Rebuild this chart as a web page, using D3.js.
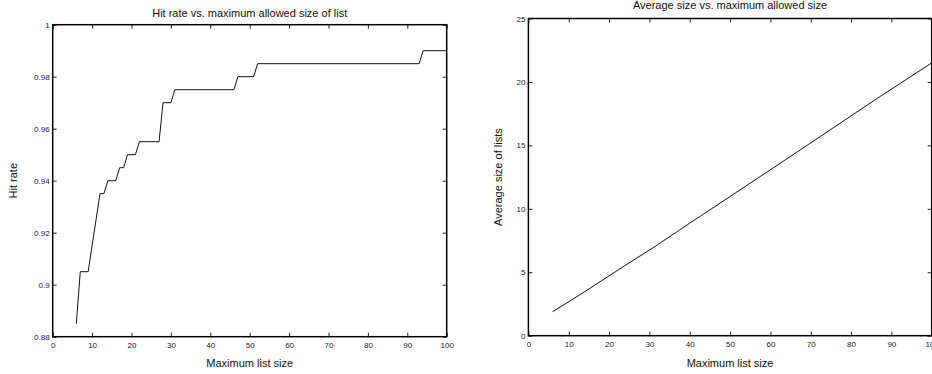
<!DOCTYPE html>
<html>
<head>
<meta charset="utf-8">
<script src="https://cdn.jsdelivr.net/npm/d3@7"></script>
<style>
  body { margin: 0; background: #fff; }
  svg { display: block; font-family: "Liberation Sans", Arial, sans-serif; }
  .tick text { fill: #222; }
</style>
</head>
<body>
<div class="chart-container"></div>
<script>
// left panel: hit rate (step-like curve)
const hitX = [6, 7, 9, 10, 11, 12, 13, 14, 16, 17, 18, 19, 21, 22, 27, 28, 30, 31, 46, 47, 51, 52, 93, 94, 100];
const hitY = [0.885, 0.905, 0.905, 0.915, 0.925, 0.935, 0.935, 0.94, 0.94, 0.945, 0.945, 0.95, 0.95, 0.955, 0.955, 0.97, 0.97, 0.975, 0.975, 0.98, 0.98, 0.985, 0.985, 0.99, 0.99];
const hitYTicks = [0.88, 0.9, 0.92, 0.94, 0.96, 0.98, 1];

// right panel: average list size
const avgX = [6, 13, 22, 32, 40, 45, 51, 64, 72, 86, 100];
const avgY = [1.89, 3.27, 5.13, 7.16, 8.87, 9.92, 11.18, 13.92, 15.62, 18.6, 21.5];
const avgYTicks = [0, 5, 10, 15, 20, 25];

const xTicks = [0, 10, 20, 30, 40, 50, 60, 70, 80, 90, 100];

const svg = d3.select(".chart-container")
    .append("svg")
    .attr("width", 932)
    .attr("height", 374);

function drawPanel(opts) {
    const x = d3.scaleLinear().domain([0, 100]).range([opts.left, opts.right]);
    const y = d3.scaleLinear().domain(opts.yDomain).range([opts.bottom, opts.top]);
    const g = svg.append("g");

    // ticks point inward on all four sides, matlab style
    g.append("g")
        .attr("transform", "translate(0," + opts.bottom + ")")
        .call(d3.axisBottom(x).tickValues(xTicks).tickSize(-4).tickSizeOuter(0).tickPadding(5.6))
        .call(a => a.selectAll("text").attr("font-size", 8));
    g.append("g")
        .attr("transform", "translate(0," + opts.top + ")")
        .call(d3.axisTop(x).tickValues(xTicks).tickSize(-4).tickSizeOuter(0).tickFormat(""));
    g.append("g")
        .attr("transform", "translate(" + opts.left + ",0)")
        .call(d3.axisLeft(y).tickValues(opts.yTicks).tickSize(-4).tickSizeOuter(0).tickPadding(3)
            .tickFormat(d => String(+d.toFixed(2))))
        .call(a => a.selectAll("text").attr("font-size", 8));
    g.append("g")
        .attr("transform", "translate(" + opts.right + ",0)")
        .call(d3.axisRight(y).tickValues(opts.yTicks).tickSize(-4).tickSizeOuter(0).tickFormat(""));
    g.selectAll(".domain").remove();
    g.selectAll(".tick line").attr("stroke", "#222");

    g.append("rect")
        .attr("x", opts.left)
        .attr("y", opts.top)
        .attr("width", opts.right - opts.left)
        .attr("height", opts.bottom - opts.top)
        .attr("fill", "none")
        .attr("stroke", "#000")
        .attr("stroke-width", 1.5);

    const pts = opts.xs.map((d, i) => [d, opts.ys[i]]);
    g.append("path")
        .datum(pts)
        .attr("fill", "none")
        .attr("stroke", "#111")
        .attr("stroke-width", 1)
        .attr("d", d3.line().x(d => x(d[0])).y(d => y(d[1])));

    const cx = (opts.left + opts.right) / 2;
    g.append("text")
        .attr("x", cx)
        .attr("y", opts.titleY)
        .attr("text-anchor", "middle")
        .attr("font-size", 11)
        .attr("fill", "#111")
        .text(opts.title);
    g.append("text")
        .attr("x", cx)
        .attr("y", 367)
        .attr("text-anchor", "middle")
        .attr("font-size", 11)
        .attr("fill", "#111")
        .text("Maximum list size");
    g.append("text")
        .attr("transform", "translate(" + opts.yLabelX + "," + (opts.top + opts.bottom) / 2 + ") rotate(-90)")
        .attr("text-anchor", "middle")
        .attr("font-size", 11)
        .attr("fill", "#111")
        .text(opts.yLabel);
}

drawPanel({
    left: 52.7, right: 446.7, top: 24.7, bottom: 336.7,
    yDomain: [0.88, 1], yTicks: hitYTicks,
    xs: hitX, ys: hitY,
    title: "Hit rate vs. maximum allowed size of list", titleY: 16.5,
    yLabel: "Hit rate", yLabelX: 16.5
});

drawPanel({
    left: 528.4, right: 931.7, top: 18.5, bottom: 335.7,
    yDomain: [0, 25], yTicks: avgYTicks,
    xs: avgX, ys: avgY,
    title: "Average size vs. maximum allowed size", titleY: 9.3,
    yLabel: "Average size of lists", yLabelX: 502
});
</script>
</body>
</html>
